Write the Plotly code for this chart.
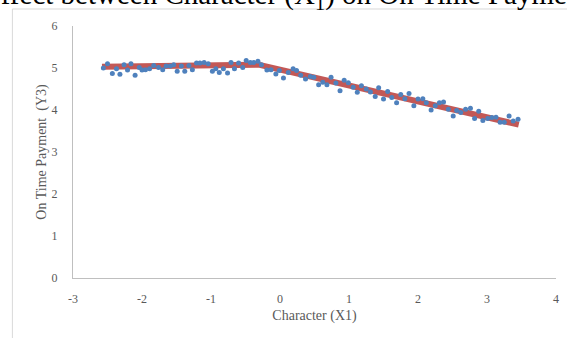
import plotly.graph_objects as go

# Scatter data (Character X1 vs On Time Payment Y3)
x_vals = [-2.56, -2.50, -2.43, -2.37, -2.32, -2.26, -2.21, -2.16, -2.10, -2.04,
          -2.00, -1.95, -1.89, -1.83, -1.76, -1.70, -1.65, -1.59, -1.54, -1.49,
          -1.43, -1.38, -1.32, -1.27, -1.21, -1.16, -1.10, -1.04, -0.98, -0.93,
          -0.88, -0.82, -0.76, -0.71, -0.66, -0.60, -0.54, -0.49, -0.43, -0.38,
          -0.32, -0.27, -0.19, -0.13, -0.06, -0.01, 0.05, 0.12, 0.19, 0.24,
          0.30, 0.37, 0.44, 0.49, 0.56, 0.62, 0.68, 0.74, 0.81, 0.87,
          0.93, 0.99, 1.06, 1.12, 1.18, 1.25, 1.31, 1.38, 1.43, 1.50,
          1.56, 1.62, 1.69, 1.75, 1.81, 1.87, 1.94, 2.00, 2.07, 2.12,
          2.19, 2.25, 2.31, 2.37, 2.44, 2.51, 2.56, 2.62, 2.69, 2.76,
          2.82, 2.88, 2.94, 3.01, 3.07, 3.13, 3.19, 3.25, 3.32, 3.38, 3.45]
y_vals = [5.00, 5.10, 4.87, 4.98, 4.85, 5.08, 4.95, 5.10, 4.83, 5.01,
          4.95, 4.96, 4.98, 5.06, 5.01, 4.96, 5.05, 5.05, 5.08, 4.92,
          5.05, 4.92, 5.06, 4.96, 5.12, 5.12, 5.13, 5.10, 4.92, 4.98,
          4.89, 4.98, 4.88, 5.13, 4.98, 5.12, 5.01, 5.18, 5.13, 5.13,
          5.16, 5.08, 4.95, 4.96, 4.86, 4.94, 4.76, 4.89, 4.98, 4.94,
          4.83, 4.74, 4.80, 4.78, 4.60, 4.66, 4.60, 4.78, 4.64, 4.46,
          4.71, 4.65, 4.54, 4.42, 4.58, 4.50, 4.43, 4.32, 4.53, 4.26,
          4.44, 4.30, 4.17, 4.37, 4.27, 4.39, 4.10, 4.26, 4.27, 4.17,
          4.00, 4.10, 4.17, 4.19, 4.02, 3.86, 3.99, 3.94, 4.02, 4.04,
          3.80, 3.97, 3.75, 3.80, 3.82, 3.83, 3.71, 3.71, 3.86, 3.74, 3.78]

# Fitted piecewise line
fit_x = [-2.58, -0.31, 3.46]
fit_y = [5.03, 5.08, 3.65]

x_ticks = [-3, -2, -1, 0, 1, 2, 3, 4]
x_tick_labels = ["-3", "-2", "-1", "0", "1", "2", "3", "4"]
y_ticks = [0, 1, 2, 3, 4, 5, 6]

title_text = "Effect between Character (X<sub>1</sub>) on On Time Payment"
x_title = "Character (X1)"
y_title = "On Time Payment  (Y3)"

serif = "Liberation Serif, Times New Roman, serif"

fig = go.Figure()
fig.add_trace(go.Scatter(x=fit_x, y=fit_y, mode="lines",
                         line=dict(color="#C0504D", width=6),
                         opacity=0.95, hoverinfo="skip", showlegend=False))
fig.add_trace(go.Scatter(x=x_vals, y=y_vals, mode="markers",
                         marker=dict(color="#4F81BD", size=5),
                         showlegend=False))

axis_common = dict(showgrid=False, zeroline=False, showline=True,
                   linecolor="#BFBFBF", linewidth=1, ticks="",
                   tickfont=dict(family=serif, size=12, color="#595959"))

fig.update_layout(
    width=567, height=338,
    margin=dict(l=73, r=8, t=26, b=60),
    paper_bgcolor="white", plot_bgcolor="white",
    xaxis=dict(range=[-3, 4], tickvals=x_ticks, ticktext=x_tick_labels,
               ticklabelstandoff=10,
               title=dict(text=x_title, standoff=4,
                          font=dict(family=serif, size=14, color="#595959")),
               **axis_common),
    yaxis=dict(range=[0, 6], tickvals=y_ticks, ticklabelstandoff=12,
               title=dict(text=y_title, standoff=1,
                          font=dict(family=serif, size=14, color="#595959")),
               **axis_common),
    shapes=[dict(type="rect", xref="paper", yref="paper",
                 x0=-0.1255, x1=1.05, y0=-0.35, y1=1.0675,
                 line=dict(color="#D9D9D9", width=1), fillcolor="rgba(0,0,0,0)",
                 layer="below")],
    annotations=[dict(text=title_text, xref="paper", yref="paper",
                      x=-0.19, y=1.04, xanchor="left", yanchor="bottom",
                      showarrow=False,
                      font=dict(family=serif, size=29, color="black"))],
)

fig.write_html("out.html")
